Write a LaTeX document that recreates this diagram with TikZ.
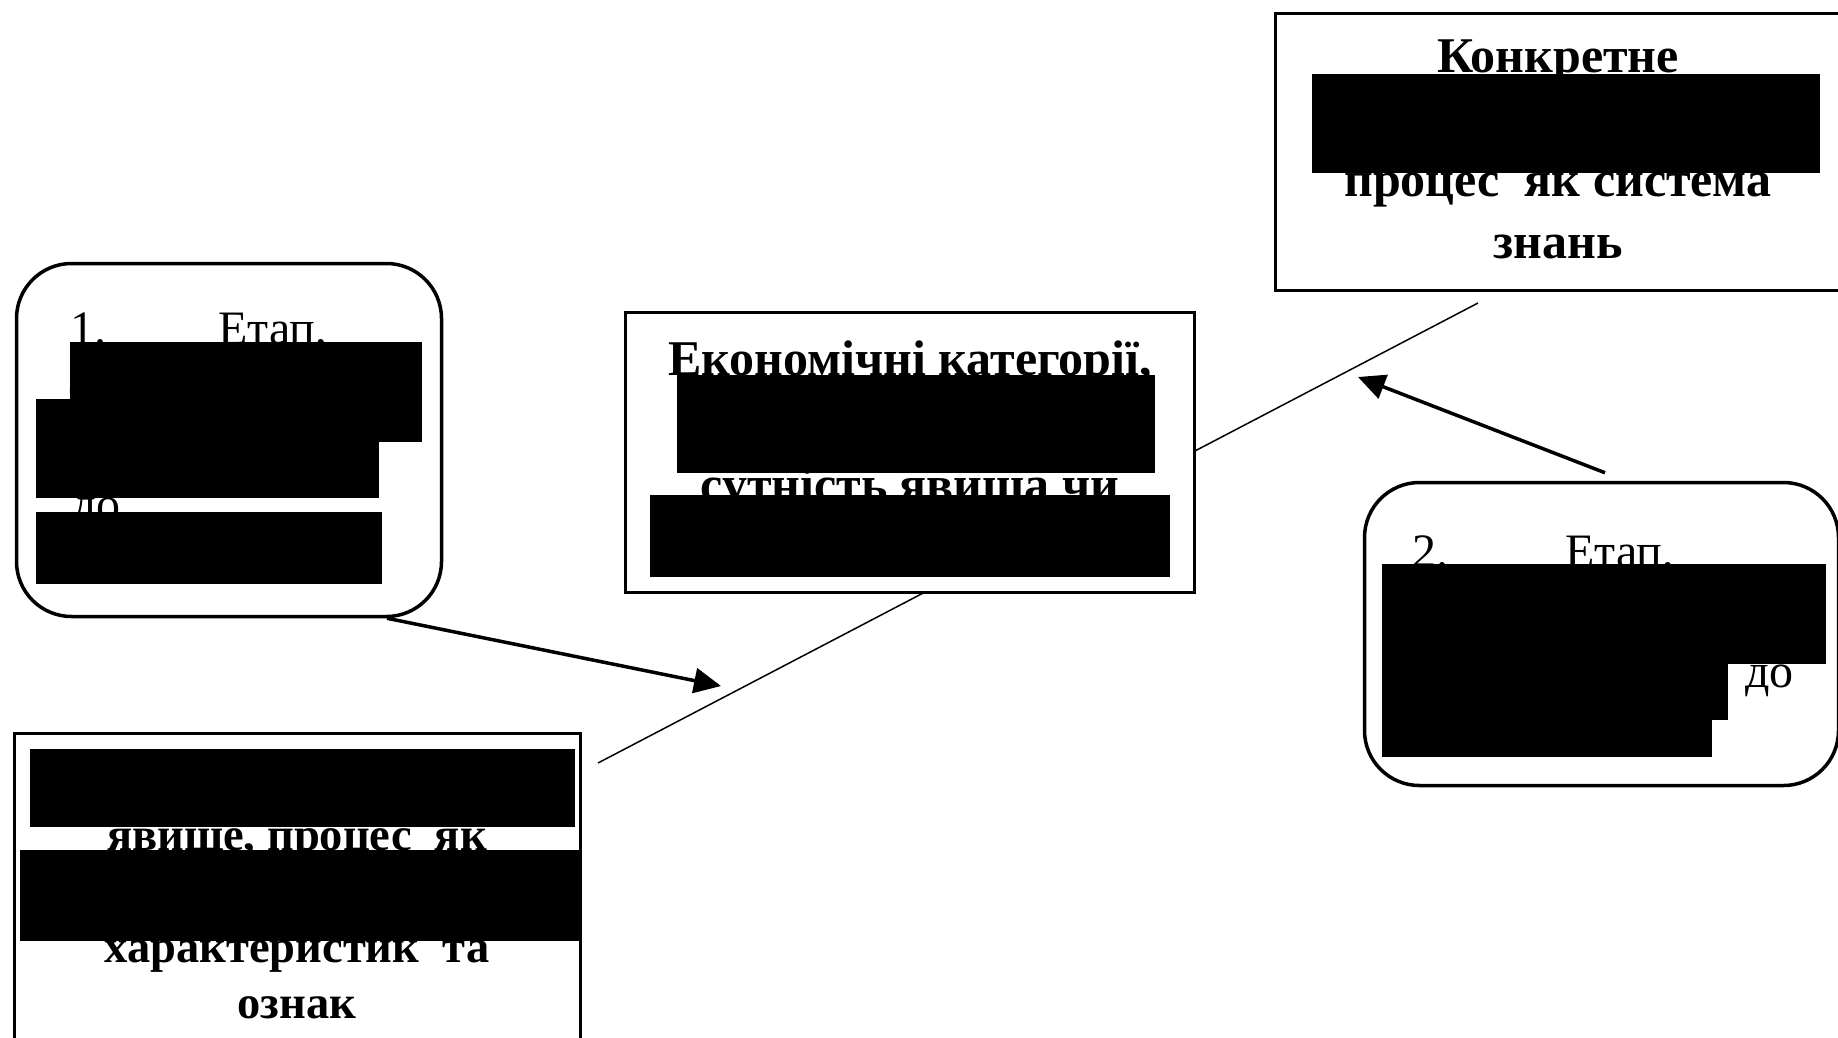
\documentclass[tikz,border=0pt]{standalone}
\usepackage{fontspec}
\setmainfont{Liberation Serif}
\usetikzlibrary{arrows.meta}
\tikzset{
  sqbox/.style={draw=black, fill=white, line width=3.5pt, rectangle, inner sep=0pt},
  rndbox/.style={draw=black, fill=white, line width=3.5pt, rectangle, rounded corners=55pt, inner sep=0pt},
  boldtxt/.style={anchor=base, inner sep=0pt, font=\fontsize{50}{62}\selectfont\bfseries},
  smallbold/.style={anchor=base, inner sep=0pt, font=\fontsize{46.5}{56}\selectfont\bfseries},
  regtxt/.style={anchor=base west, inner sep=0pt, font=\fontsize{48}{58}\selectfont},
  redact/.style={fill=black},
  thinline/.style={line width=1.5pt},
  thickarrow/.style={line width=3.5pt, -{Triangle[length=27pt,width=25pt]}}
}
\begin{document}
\begin{tikzpicture}[x=1pt,y=-1pt]
\useasboundingbox (0,0) rectangle (1838,1037);
\clip (0,0) rectangle (1838,1037);
\fill[white] (0,0) rectangle (1838,1037);

% long thin line passing behind the central box
\coordinate (la) at (598,763);
\coordinate (lb) at (1478,303);
\draw[thinline] (la) -- (lb);

% boxes
\node[rndbox, minimum width=425pt, minimum height=353pt] (b1) at (229,440) {};
\node[sqbox, minimum width=569pt, minimum height=280pt] (b2) at (910,452.5) {};
\node[sqbox, minimum width=565pt, minimum height=277pt] (b3) at (1558,152) {};
\node[sqbox, minimum width=566pt, minimum height=325pt] (b4) at (297.5,896) {};
\node[rndbox, minimum width=474pt, minimum height=303pt] (b5) at (1601.5,634) {};

% box 1 text
\node[regtxt] (t1a) at (70,344) {1.};
\node[regtxt] (t1b) at (218,344) {Етап,};
\node[regtxt] (t1c) at (68,402) {с};
\node[regtxt] (t1d) at (72,520) {до};

% box 2 text
\node[boldtxt] (t2a) at (910,375) {Економічні категорії,};
\node[boldtxt] (t2b) at (910,501) {сутність явища чи};

% box 3 text
\node[boldtxt] (t3a) at (1558,72) {Конкретне};
\node[boldtxt] (t3b) at (1558,196) {процес\ \ як система};
\node[boldtxt] (t3c) at (1558,258) {знань};

% box 4 text
\node[smallbold] (t4a) at (297,850) {явище, процес\ \ як};
\node[smallbold] (t4b) at (297,962) {характеристик\ \ та};
\node[smallbold] (t4c) at (297,1018) {ознак};

% box 5 text
\node[regtxt] (t5a) at (1412,567) {2.};
\node[regtxt] (t5b) at (1565,567) {Етап,};
\node[regtxt] (t5c) at (1745,687) {до};

% redaction bars
\fill[redact] (70,342) rectangle (422,442);
\fill[redact] (36,399) rectangle (379,498);
\fill[redact] (36,512) rectangle (382,584);

\fill[redact] (677,375) rectangle (1155,473);
\fill[redact] (650,495) rectangle (1170,577);

\fill[redact] (1312,74) rectangle (1820,173);

\fill[redact] (30,749) rectangle (575,827);
\fill[redact] (20,850) rectangle (579,941);

\fill[redact] (1382,564) rectangle (1826,664);
\fill[redact] (1382,664) rectangle (1728,720);
\fill[redact] (1382,720) rectangle (1712,757);

% arrows
\coordinate (a1e) at (721,686);
\coordinate (a2e) at (1358,377);
\draw[thickarrow] ([xshift=158pt]b1.south) -- (a1e);
\draw[thickarrow] ([xshift=3.5pt,yshift=8pt]b5.north) -- (a2e);
\end{tikzpicture}
\end{document}
